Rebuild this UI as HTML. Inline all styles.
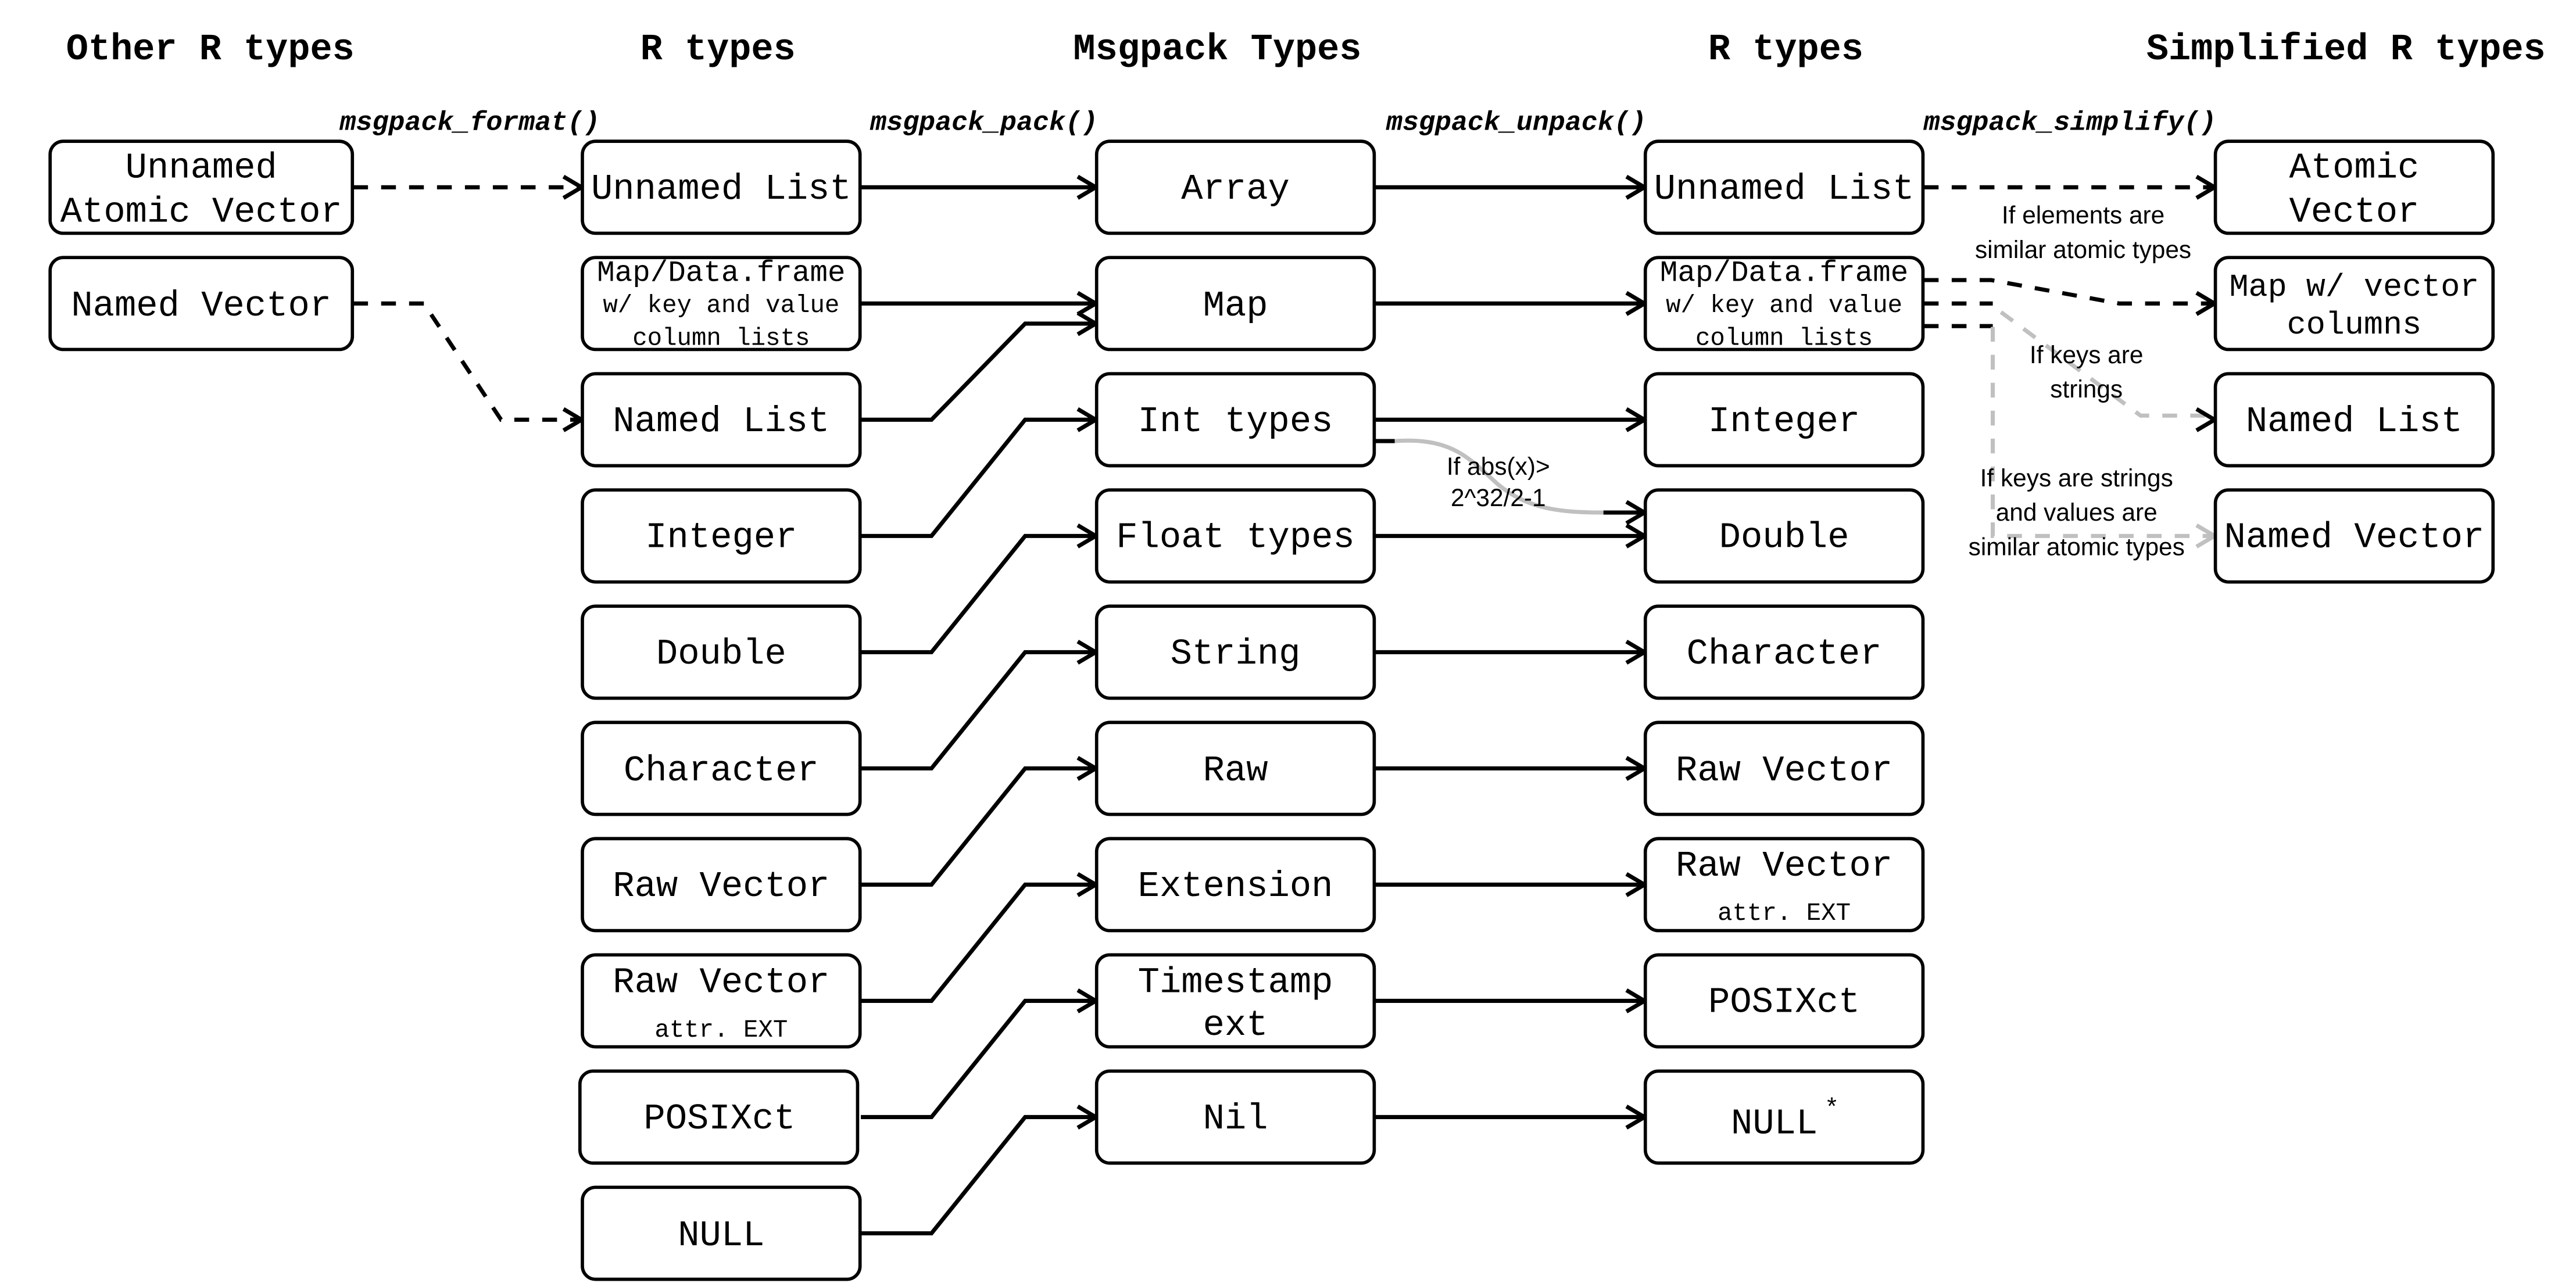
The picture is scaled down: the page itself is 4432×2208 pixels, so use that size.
<!DOCTYPE html>
<html><head><meta charset="utf-8"><style>
html,body{margin:0;padding:0;background:#fff;}
svg{display:block;}
.b{fill:#fff;stroke:#000;stroke-width:2;}
.t{font-family:"Liberation Mono",monospace;font-size:22px;text-anchor:middle;fill:#000;}
.s{font-family:"Liberation Mono",monospace;font-size:15px;text-anchor:middle;fill:#000;}
.h{font-family:"Liberation Mono",monospace;font-size:22.5px;font-weight:bold;text-anchor:middle;}
.f{font-family:"Liberation Mono",monospace;font-size:16.5px;font-weight:bold;font-style:italic;text-anchor:middle;}
.l{font-family:"Liberation Sans",sans-serif;font-size:15px;text-anchor:middle;}
.c{fill:none;stroke:#000;stroke-width:2.5;}
.d{fill:none;stroke:#000;stroke-width:2.5;stroke-dasharray:9 8;}
.g{fill:none;stroke:#c0c0c0;stroke-width:2.5;}
.gd{fill:none;stroke:#c0c0c0;stroke-width:2.5;stroke-dasharray:9 8;}
</style></head><body>
<svg width="4432" height="2208" viewBox="0 0 1568 781" preserveAspectRatio="none" xmlns="http://www.w3.org/2000/svg">
<defs>
<g id="ar"><path d="M-11,-6.5 L0,0 L-11,6.5" fill="none" stroke="#000" stroke-width="2.5"/></g>
<g id="ag"><path d="M-11,-6.5 L0,0 L-11,6.5" fill="none" stroke="#c0c0c0" stroke-width="2.5"/></g>
</defs>
<!-- headers -->
<text class="h" x="128" y="36">Other R types</text>
<text class="h" x="437" y="36">R types</text>
<text class="h" x="741" y="36">Msgpack Types</text>
<text class="h" x="1087" y="36">R types</text>
<text class="h" x="1428" y="36">Simplified R types</text>
<text class="f" x="286" y="79">msgpack_format()</text>
<text class="f" x="599" y="79">msgpack_pack()</text>
<text class="f" x="923" y="79">msgpack_unpack()</text>
<text class="f" x="1260" y="79">msgpack_simplify()</text>

<!-- connectors: format -->
<path class="d" d="M215,114 H352"/><use href="#ar" x="354" y="114"/>
<path class="d" d="M215,184.75 H258 L305,255.5 H352"/><use href="#ar" x="354" y="255.5"/>

<!-- pack -->
<path class="c" d="M524,114 H665"/><use href="#ar" x="667" y="114"/>
<path class="c" d="M524,184.75 H665"/><use href="#ar" x="667" y="184.75"/>
<path class="c" d="M524,255.5 H567 L624,197 H665"/><use href="#ar" x="667" y="197"/>
<path class="c" d="M524,326.25 H567 L624,255.5 H665"/><use href="#ar" x="667" y="255.5"/>
<path class="c" d="M524,397 H567 L624,326.25 H665"/><use href="#ar" x="667" y="326.25"/>
<path class="c" d="M524,467.75 H567 L624,397 H665"/><use href="#ar" x="667" y="397"/>
<path class="c" d="M524,538.5 H567 L624,467.75 H665"/><use href="#ar" x="667" y="467.75"/>
<path class="c" d="M524,609.25 H567 L624,538.5 H665"/><use href="#ar" x="667" y="538.5"/>
<path class="c" d="M524,680 H567 L624,609.25 H665"/><use href="#ar" x="667" y="609.25"/>
<path class="c" d="M524,750.75 H567 L624,680 H665"/><use href="#ar" x="667" y="680"/>

<!-- unpack -->
<path class="c" d="M837,114 H999"/><use href="#ar" x="1001" y="114"/>
<path class="c" d="M837,184.75 H999"/><use href="#ar" x="1001" y="184.75"/>
<path class="c" d="M837,255.5 H999"/><use href="#ar" x="1001" y="255.5"/>
<path class="c" d="M837,326.25 H999"/><use href="#ar" x="1001" y="326.25"/>
<path class="c" d="M837,397 H999"/><use href="#ar" x="1001" y="397"/>
<path class="c" d="M837,467.75 H999"/><use href="#ar" x="1001" y="467.75"/>
<path class="c" d="M837,538.5 H999"/><use href="#ar" x="1001" y="538.5"/>
<path class="c" d="M837,609.25 H999"/><use href="#ar" x="1001" y="609.25"/>
<path class="c" d="M837,680 H999"/><use href="#ar" x="1001" y="680"/>
<path class="c" d="M837,268.5 H849"/>
<path class="g" d="M849,268.5 C885,266 895,280 912,295 C930,310 950,312 976,312"/>
<path class="c" d="M976,312 H999"/><use href="#ar" x="1001" y="312"/>
<text class="l" x="912" y="289">If abs(x)&gt;</text>
<text class="l" x="912" y="308">2^32/2-1</text>

<!-- simplify -->
<path class="d" d="M1171,114 H1346"/><use href="#ar" x="1348" y="114"/>
<text class="l" x="1268" y="136">If elements are</text>
<text class="l" x="1268" y="157">similar atomic types</text>
<path class="d" d="M1171,170.5 H1212 L1290,184.75 H1346"/><use href="#ar" x="1348" y="184.75"/>
<path class="d" d="M1171,184.75 H1213"/>
<path class="gd" d="M1218,190 L1303,253 H1346"/><use href="#ar" x="1348" y="255.5"/>
<text class="l" x="1270" y="221">If keys are</text>
<text class="l" x="1270" y="242">strings</text>
<path class="d" d="M1171,198.5 H1213"/>
<path class="gd" d="M1213,199 V326.25 H1346"/><use href="#ag" x="1348" y="326.25"/>
<text class="l" x="1264" y="296">If keys are strings</text>
<text class="l" x="1264" y="317">and values are</text>
<text class="l" x="1264" y="338">similar atomic types</text>

<!-- col0 -->
<rect class="b" x="30.5" y="86" width="184" height="56" rx="8"/>
<text class="t" x="122.5" y="108">Unnamed</text>
<text class="t" x="122.5" y="135">Atomic Vector</text>
<rect class="b" x="30.5" y="156.75" width="184" height="56" rx="8"/>
<text class="t" x="122.5" y="192">Named Vector</text>

<!-- col1 -->
<rect class="b" x="354.5" y="86" width="169" height="56" rx="8"/>
<text class="t" x="439" y="121">Unnamed List</text>
<rect class="b" x="354.5" y="156.75" width="169" height="56" rx="8"/>
<text class="s" x="439" y="171" style="font-size:18px">Map/Data.frame</text>
<text class="s" x="439" y="190">w/ key and value</text>
<text class="s" x="439" y="210">column lists</text>
<rect class="b" x="354.5" y="227.5" width="169" height="56" rx="8"/>
<text class="t" x="439" y="262.5">Named List</text>
<rect class="b" x="354.5" y="298.25" width="169" height="56" rx="8"/>
<text class="t" x="439" y="333">Integer</text>
<rect class="b" x="354.5" y="369" width="169" height="56" rx="8"/>
<text class="t" x="439" y="404">Double</text>
<rect class="b" x="354.5" y="439.75" width="169" height="56" rx="8"/>
<text class="t" x="439" y="475">Character</text>
<rect class="b" x="354.5" y="510.5" width="169" height="56" rx="8"/>
<text class="t" x="439" y="545.5">Raw Vector</text>
<rect class="b" x="354.5" y="581.25" width="169" height="56" rx="8"/>
<text class="t" x="439" y="604">Raw Vector</text>
<text class="s" x="439" y="631">attr. EXT</text>
<rect class="b" x="353" y="652" width="169" height="56" rx="8"/>
<text class="t" x="438" y="687">POSIXct</text>
<rect class="b" x="354.5" y="722.75" width="169" height="56" rx="8"/>
<text class="t" x="439" y="758">NULL</text>

<!-- col2 -->
<rect class="b" x="667.5" y="86" width="169" height="56" rx="8"/>
<text class="t" x="752" y="121">Array</text>
<rect class="b" x="667.5" y="156.75" width="169" height="56" rx="8"/>
<text class="t" x="752" y="192">Map</text>
<rect class="b" x="667.5" y="227.5" width="169" height="56" rx="8"/>
<text class="t" x="752" y="262.5">Int types</text>
<rect class="b" x="667.5" y="298.25" width="169" height="56" rx="8"/>
<text class="t" x="752" y="333">Float types</text>
<rect class="b" x="667.5" y="369" width="169" height="56" rx="8"/>
<text class="t" x="752" y="404">String</text>
<rect class="b" x="667.5" y="439.75" width="169" height="56" rx="8"/>
<text class="t" x="752" y="475">Raw</text>
<rect class="b" x="667.5" y="510.5" width="169" height="56" rx="8"/>
<text class="t" x="752" y="545.5">Extension</text>
<rect class="b" x="667.5" y="581.25" width="169" height="56" rx="8"/>
<text class="t" x="752" y="604">Timestamp</text>
<text class="t" x="752" y="630">ext</text>
<rect class="b" x="667.5" y="652" width="169" height="56" rx="8"/>
<text class="t" x="752" y="687">Nil</text>

<!-- col3 -->
<rect class="b" x="1001.5" y="86" width="169" height="56" rx="8"/>
<text class="t" x="1086" y="121">Unnamed List</text>
<rect class="b" x="1001.5" y="156.75" width="169" height="56" rx="8"/>
<text class="s" x="1086" y="171" style="font-size:18px">Map/Data.frame</text>
<text class="s" x="1086" y="190">w/ key and value</text>
<text class="s" x="1086" y="210">column lists</text>
<rect class="b" x="1001.5" y="227.5" width="169" height="56" rx="8"/>
<text class="t" x="1086" y="262.5">Integer</text>
<rect class="b" x="1001.5" y="298.25" width="169" height="56" rx="8"/>
<text class="t" x="1086" y="333">Double</text>
<rect class="b" x="1001.5" y="369" width="169" height="56" rx="8"/>
<text class="t" x="1086" y="404">Character</text>
<rect class="b" x="1001.5" y="439.75" width="169" height="56" rx="8"/>
<text class="t" x="1086" y="475">Raw Vector</text>
<rect class="b" x="1001.5" y="510.5" width="169" height="56" rx="8"/>
<text class="t" x="1086" y="533">Raw Vector</text>
<text class="s" x="1086" y="560">attr. EXT</text>
<rect class="b" x="1001.5" y="581.25" width="169" height="56" rx="8"/>
<text class="t" x="1086" y="616">POSIXct</text>
<rect class="b" x="1001.5" y="652" width="169" height="56" rx="8"/>
<text class="t" x="1080" y="690">NULL</text>
<text class="s" x="1115" y="679">*</text>

<!-- col4 -->
<rect class="b" x="1348.5" y="86" width="169" height="56" rx="8"/>
<text class="t" x="1433" y="108">Atomic</text>
<text class="t" x="1433" y="135">Vector</text>
<rect class="b" x="1348.5" y="156.75" width="169" height="56" rx="8"/>
<text class="t" x="1433" y="180" style="font-size:19.5px">Map w/ vector</text>
<text class="t" x="1433" y="203" style="font-size:19.5px">columns</text>
<rect class="b" x="1348.5" y="227.5" width="169" height="56" rx="8"/>
<text class="t" x="1433" y="262.5">Named List</text>
<rect class="b" x="1348.5" y="298.25" width="169" height="56" rx="8"/>
<text class="t" x="1433" y="333">Named Vector</text>
</svg>
</body></html>
